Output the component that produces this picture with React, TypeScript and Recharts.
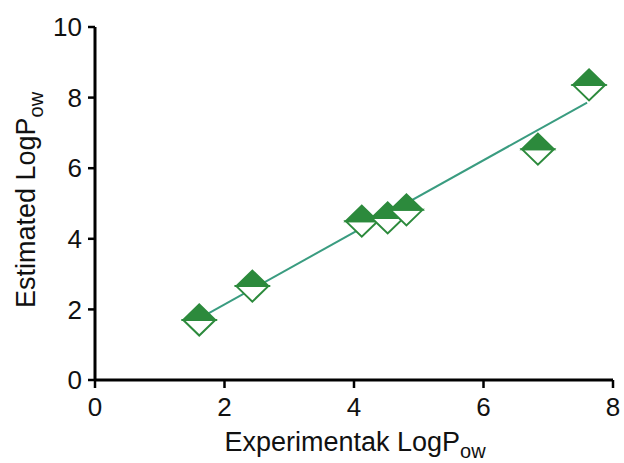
import React from 'react';
import { ScatterChart, Scatter, XAxis, YAxis, ReferenceLine } from 'recharts';

const experimental = [1.61, 2.43, 4.12, 4.52, 4.81, 6.84, 7.63];
const estimated = [1.7, 2.66, 4.5, 4.59, 4.82, 6.54, 8.36];
const fitLine = [
  { x: 1.6, y: 1.73 },
  { x: 7.6, y: 7.86 },
];
const xTicks = [0, 2, 4, 6, 8];
const yTicks = [0, 2, 4, 6, 8, 10];

const points = experimental.map((x, i) => ({ x, y: estimated[i] }));

const GREEN = '#2c8a3c';
const LINE = '#3a9c80';

const HalfDiamond = (props: any) => {
  const { cx, cy } = props;
  const w = 16;
  const h = 15.5;
  return (
    <g>
      <path
        d={`M${cx - w},${cy} L${cx},${cy + h} L${cx + w},${cy} Z`}
        fill="#fff"
        stroke={GREEN}
        strokeWidth={2}
      />
      <path
        d={`M${cx - w},${cy} L${cx},${cy - h} L${cx + w},${cy} Z`}
        fill={GREEN}
        stroke={GREEN}
        strokeWidth={2}
      />
    </g>
  );
};

const XLabel = () => (
  <text x={355} y={451} textAnchor="middle" fontSize={27} fill="#111">
    Experimentak LogP
    <tspan dy={7} fontSize={20}>ow</tspan>
  </text>
);

const YLabel = () => (
  <text
    x={0}
    y={0}
    transform="translate(35,200) rotate(-90)"
    textAnchor="middle"
    fontSize={27}
    fill="#111"
  >
    Estimated LogP
    <tspan dy={8} fontSize={20}>ow</tspan>
  </text>
);

export default function App() {
  return (
    <div style={{ position: 'absolute', left: 0, top: 0, fontFamily: '"Liberation Sans", Arial, sans-serif', background: '#fff' }}>
      <ScatterChart width={624} height={463} margin={{ top: 27, right: 11, bottom: 0, left: 0 }}>
        <XAxis
          type="number"
          dataKey="x"
          domain={[0, 8]}
          ticks={xTicks}
          height={83}
          axisLine={{ stroke: '#000', strokeWidth: 3 }}
          tickLine={{ stroke: '#000', strokeWidth: 2.5 }}
          tickSize={8}
          tickMargin={10}
          tick={{ fontSize: 26, fill: '#111' }}
          label={{ content: <XLabel /> }}
        />
        <YAxis
          type="number"
          dataKey="y"
          domain={[0, 10]}
          ticks={yTicks}
          width={95}
          axisLine={{ stroke: '#000', strokeWidth: 3 }}
          tickLine={{ stroke: '#000', strokeWidth: 2.5 }}
          tickSize={7}
          tickMargin={6}
          tick={{ fontSize: 26, fill: '#111' }}
          label={{ content: <YLabel /> }}
        />
        <Scatter data={points} shape={HalfDiamond} isAnimationActive={false} />
        <ReferenceLine segment={fitLine} stroke={LINE} strokeWidth={2} />
      </ScatterChart>
    </div>
  );
}
